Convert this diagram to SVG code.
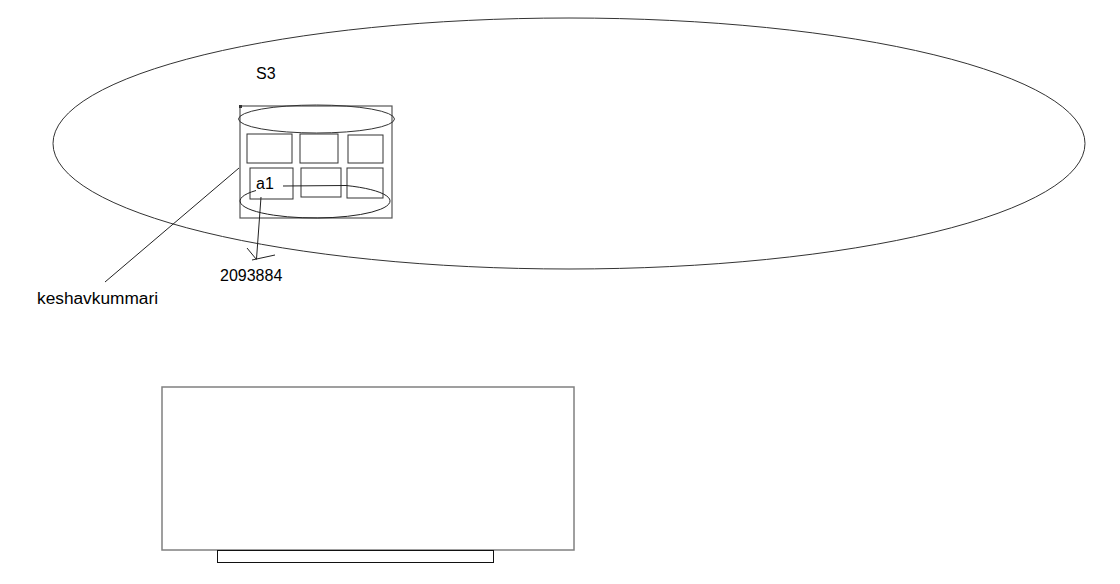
<svg xmlns="http://www.w3.org/2000/svg" width="1120" height="584" viewBox="0 0 1120 584">
<style>
.t{font-family:"Liberation Sans",Arial,sans-serif;fill:#000}
.cell{fill:#fff;stroke:#333;stroke-width:1}
.ln{fill:none;stroke:#222;stroke-width:1}
</style>
<rect width="1120" height="584" fill="#fff"/>
<g id="s3">
<ellipse cx="569" cy="143.5" rx="516" ry="125.5" fill="none" stroke="#333" stroke-width="1"/>
<text class="t" x="256" y="79" font-size="16">S3</text>
</g>
<g id="container">
<rect x="240" y="106" width="152" height="112" fill="#fff" stroke="#555" stroke-width="1.2"/>
<rect x="239" y="105" width="3" height="3" fill="#333"/>
<ellipse cx="316.5" cy="119" rx="78" ry="14" fill="none" stroke="#333" stroke-width="1"/>
</g>
<g id="cells">
<rect class="cell" x="247" y="134" width="45" height="29"/>
<rect class="cell" x="300" y="134" width="38" height="29"/>
<rect class="cell" x="348" y="135" width="35" height="28"/>
<rect class="cell" x="301" y="168" width="40" height="29"/>
<rect class="cell" x="347" y="168" width="36" height="30"/>
</g>
<g id="a1">
<rect class="cell" x="250" y="168" width="43" height="31"/>
<text class="t" x="256" y="189" font-size="16">a1</text>
</g>
<g id="lower-ellipse">
<path class="ln" d="M256 190.5 A75 17 0 1 0 346 185.5"/>
</g>
<g id="label-keshav">
<text class="t" x="37" y="304" font-size="17.3">keshavkummari</text>
</g>
<g id="label-num">
<text class="t" x="220" y="281" font-size="16">2093884</text>
</g>
<g id="panel">
<rect x="162" y="387" width="412" height="163" fill="#fff" stroke="#808080" stroke-width="1.5"/>
<rect x="217.5" y="550.5" width="276" height="12" fill="#fff" stroke="#111" stroke-width="1"/>
</g>
<g id="connectors">
<line class="ln" x1="283" y1="186" x2="346" y2="185.5"/>
<line class="ln" x1="105" y1="282" x2="239" y2="168"/>
<line class="ln" x1="261" y1="197" x2="256.5" y2="259"/>
<path class="ln" d="M247 248 L256.5 259.5 M252 260 L275 255"/>
</g>
</svg>
